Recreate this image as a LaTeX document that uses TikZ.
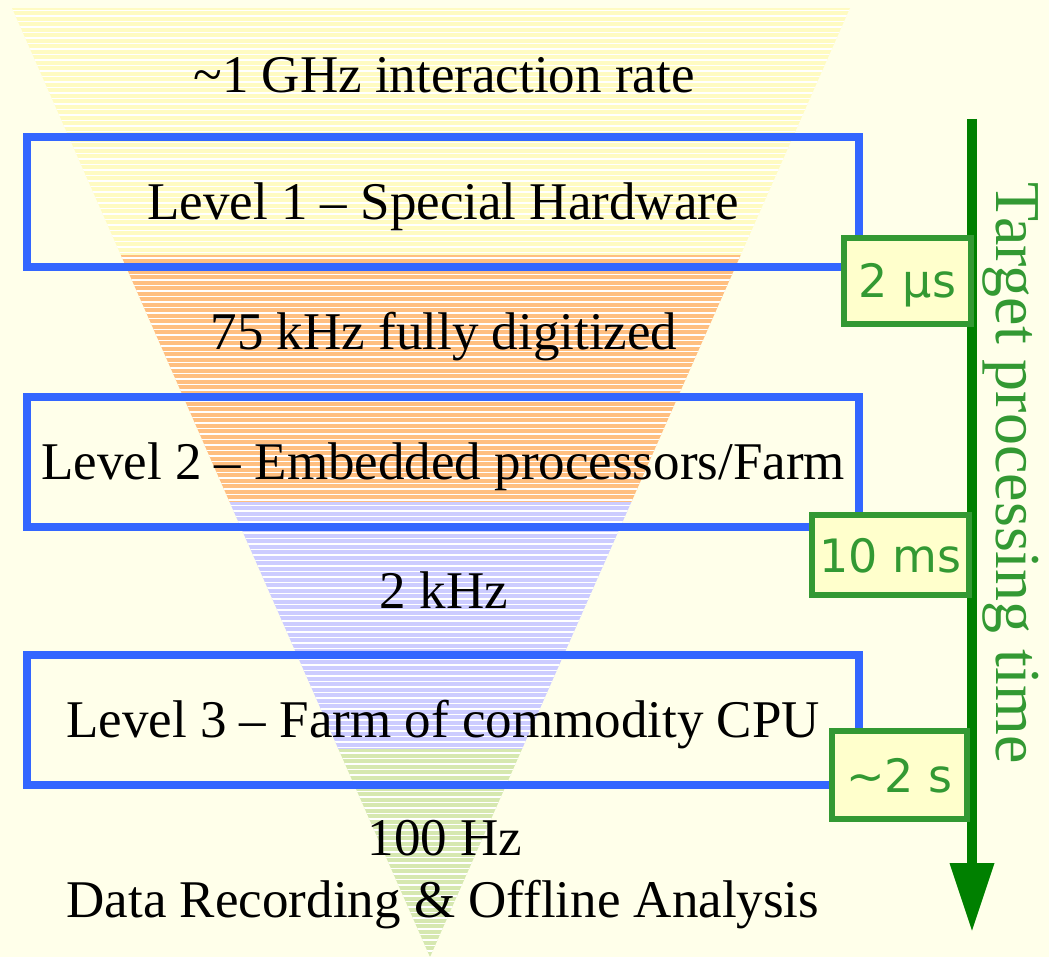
\documentclass[tikz,border=0pt]{standalone}
\usepackage{fontspec}
\setmainfont{Liberation Serif}
\newfontfamily\lblfont{DejaVu Sans}
\usetikzlibrary{arrows.meta}
\definecolor{bgc}{HTML}{FFFFEA}
\definecolor{bandyellow}{HTML}{FFFBC2}
\definecolor{bandorange}{HTML}{FFBF80}
\definecolor{bandblue}{HTML}{CCCCFF}
\definecolor{bandgreen}{HTML}{D6E8B0}
\definecolor{boxblue}{HTML}{3366FF}
\definecolor{lblgreen}{HTML}{339933}
\definecolor{lblfill}{HTML}{FFFFCC}
\definecolor{arrowgreen}{HTML}{008000}
\begin{document}
\begin{tikzpicture}[x=1pt,y=-1pt,
  lvl/.style={draw=boxblue, line width=8pt, minimum width=832pt, minimum height=130pt,
    inner sep=0pt, text height=35pt, text depth=0pt, font=\fontsize{53}{60}\selectfont},
  rate/.style={anchor=base, inner sep=0pt, font=\fontsize{53}{60}\selectfont},
  tbox/.style={draw=lblgreen, fill=lblfill, line width=6pt, inner sep=0pt,
    text height=34pt, text depth=0pt, text=lblgreen, font=\lblfont\fontsize{46}{50}\selectfont},
  stripe/.style={white, line width=1.2pt}]
\useasboundingbox (0,0) rectangle (1049,957);
\fill[bgc] (0,0) rectangle (1049,957);
% funnel
\begin{scope}
  \clip (12,8) -- (850,8) -- (430,957) -- cycle;
  \fill[bandyellow] (0,8) rectangle (1049,255);
  \fill[bandorange] (0,255) rectangle (1049,502);
  \fill[bandblue] (0,502) rectangle (1049,749);
  \fill[bandgreen] (0,749) rectangle (1049,957);
  \foreach \y in {10.5,16,...,957} \draw[stripe] (0,\y) -- (1049,\y);
\end{scope}
% rates and levels
\node[rate] (r1) at (444,93) {\textasciitilde1 GHz interaction rate};
\node[lvl] (l1) at (443,202) {Level 1 – Special Hardware};
\node[rate] (r2) at (444,350) {75 kHz fully digitized};
\node[lvl] (l2) at (443,461.5) {Level 2 – Embedded processors/Farm};
\node[rate] (r3) at (444,608) {2 kHz};
\node[lvl] (l3) at (443,720) {Level 3 – Farm of commodity CPU};
\node[rate] (r4) at (445,855) {100 Hz};
\node[rate] (r5) at (443,917) {Data Recording \& Offline Analysis};
% time arrow
\coordinate (ta) at (972,119);
\coordinate (tb) at (972,932);
\draw[arrowgreen, line width=10pt, -{Triangle[width=42pt,length=69pt]}] (ta) -- (tb);
% time labels
\node[tbox, minimum width=127pt, minimum height=86pt] (t1) at (907.5,281) {2 μs};
\node[tbox, minimum width=157pt, minimum height=80pt] (t2) at (890.5,555) {10 ms};
\node[tbox, minimum width=135pt, minimum height=88pt] (t3) at (899.5,775) {\textasciitilde2 s};
\node[anchor=base, rotate=-90, inner sep=0pt, text=lblgreen,
  font=\fontsize{64}{70}\selectfont] (tt) at (996,473) {Target processing time};
\end{tikzpicture}
\end{document}
